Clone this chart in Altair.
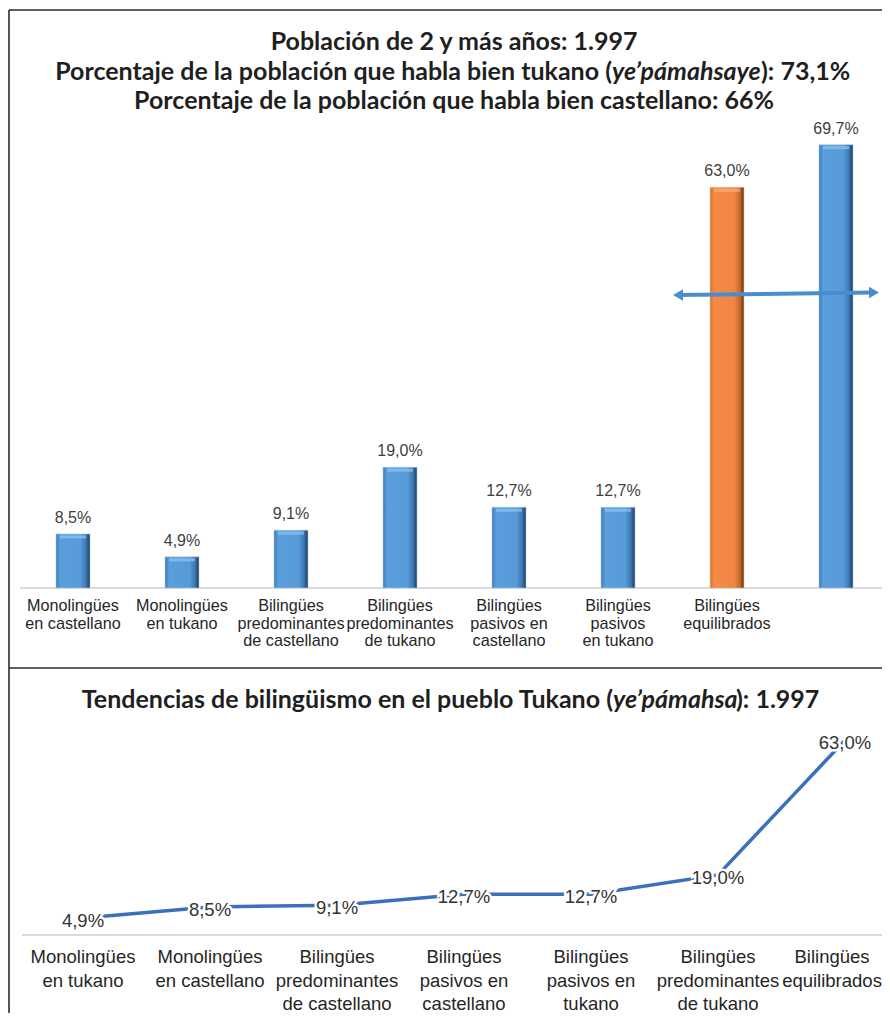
import altair as alt
import pandas as pd

# ---------------- data ----------------
bar_categories = [
    "Monolingües\nen castellano",
    "Monolingües\nen tukano",
    "Bilingües\npredominantes\nde castellano",
    "Bilingües\npredominantes\nde tukano",
    "Bilingües\npasivos en\ncastellano",
    "Bilingües\npasivos\nen tukano",
    "Bilingües\nequilibrados",
    "",
]
bar_values = [8.5, 4.9, 9.1, 19.0, 12.7, 12.7, 63.0, 69.7]
bar_labels = ["8,5%", "4,9%", "9,1%", "19,0%", "12,7%", "12,7%", "63,0%", "69,7%"]
bar_tones = ["blue", "blue", "blue", "blue", "blue", "blue", "orange", "blue"]

line_categories = [
    "Monolingües\nen tukano",
    "Monolingües\nen castellano",
    "Bilingües\npredominantes\nde castellano",
    "Bilingües\npasivos en\ncastellano",
    "Bilingües\npasivos en\ntukano",
    "Bilingües\npredominantes\nde tukano",
    "Bilingües\nequilibrados",
]
line_values = [4.9, 8.5, 9.1, 12.7, 12.7, 19.0, 63.0]
line_labels = ["4,9%", "8,5%", "9,1%", "12,7%", "12,7%", "19,0%", "63,0%"]

title_top_1 = "Población de 2 y más años: 1.997"
title_top_2 = ["Porcentaje de la población que habla bien tukano (", "ye’pámahsaye", "): 73,1%"]
title_top_3 = "Porcentaje de la población que habla bien castellano: 66%"
title_bottom = ["Tendencias de bilingüismo en el pueblo Tukano (", "ye’pámahsa", "): 1.997"]

bars_df = pd.DataFrame({"cat": bar_categories, "value": bar_values,
                        "label": bar_labels, "tone": bar_tones})
line_df = pd.DataFrame({"cat": line_categories, "value": line_values,
                        "label": line_labels, "idx": list(range(len(line_values)))})
one = pd.DataFrame({"d": [0]})

W, H = 874, 1005
TITLE_FONT = "Lato"
TITLE_SIZE = 25
LABEL_FONT = "Liberation Sans"

# ---------------- top panel ----------------
xb = alt.X("cat:N", scale=alt.Scale(domain=bar_categories, range=[10.5, 882.5],
                                    paddingInner=0, paddingOuter=0), axis=None)
yb = alt.Y("value:Q", scale=alt.Scale(domain=[0, 91.2], range=[580, 0]), axis=None)

blue_grad = alt.Gradient(
    gradient="linear", x1=0, y1=0, x2=1, y2=0,
    stops=[alt.GradientStop(offset=0, color="#3b79b8"),
           alt.GradientStop(offset=0.12, color="#5a9edc"),
           alt.GradientStop(offset=0.72, color="#569ad8"),
           alt.GradientStop(offset=0.88, color="#3e78b2"),
           alt.GradientStop(offset=1, color="#183a60")])
orange_grad = alt.Gradient(
    gradient="linear", x1=0, y1=0, x2=1, y2=0,
    stops=[alt.GradientStop(offset=0, color="#d9722e"),
           alt.GradientStop(offset=0.12, color="#f48a45"),
           alt.GradientStop(offset=0.72, color="#f08643"),
           alt.GradientStop(offset=0.88, color="#c4682c"),
           alt.GradientStop(offset=1, color="#6a3510")])

bars_blue = alt.Chart(bars_df).transform_filter("datum.tone == 'blue'").mark_bar(
    size=34, color=blue_grad, stroke="#b9c9d8", strokeWidth=0.6).encode(x=xb, y=yb)
bars_orange = alt.Chart(bars_df).transform_filter("datum.tone == 'orange'").mark_bar(
    size=34, color=orange_grad, stroke="#d8c2b0", strokeWidth=0.6).encode(x=xb, y=yb)
bevel_blue = alt.Chart(bars_df).transform_filter("datum.tone == 'blue'").mark_tick(
    size=26, thickness=3, color="#8fc6f2", yOffset=3).encode(x=xb, y=yb)
bevel_orange = alt.Chart(bars_df).transform_filter("datum.tone == 'orange'").mark_tick(
    size=26, thickness=3, color="#f8b07c", yOffset=3).encode(x=xb, y=yb)

bar_text = alt.Chart(bars_df).mark_text(
    font=LABEL_FONT, fontSize=16, color="#404040", baseline="alphabetic", dy=-11
).encode(x=xb, y=yb, text="label:N")

bar_cats = alt.Chart(bars_df).mark_text(
    font=LABEL_FONT, fontSize=16.2, color="#262626", baseline="top",
    lineBreak="\n", lineHeight=17.5
).encode(x=xb, y=alt.value(590), text="cat:N")

axis_top = alt.Chart(one).mark_rule(color="#cfcfcf", strokeWidth=1.5).encode(
    x=alt.value(12), x2=alt.value(W), y=alt.value(580))

ARROW = "#4a8dcf"
arrow_line = alt.Chart(one).mark_rule(color=ARROW, strokeWidth=4).encode(
    x=alt.value(670), x2=alt.value(866), y=alt.value(287), y2=alt.value(284.5))
arrow_l = alt.Chart(one).mark_point(shape="triangle-left", filled=True, size=130,
                                    color=ARROW, opacity=1).encode(
    x=alt.value(670), y=alt.value(287))
arrow_r = alt.Chart(one).mark_point(shape="triangle-right", filled=True, size=130,
                                    color=ARROW, opacity=1).encode(
    x=alt.value(866), y=alt.value(284.5))


def title_text(s, x, y, align, italic=False, size=TITLE_SIZE):
    return alt.Chart(one).mark_text(
        text=s, font=TITLE_FONT, fontSize=size, fontWeight="bold",
        fontStyle="italic" if italic else "normal", align=align,
        baseline="middle", color="#1f1f1f"
    ).encode(x=alt.value(x), y=alt.value(y))


titles = [
    title_text(title_top_1, 446, 34, "center"),
    title_text(title_top_2[0], 604, 64, "right"),
    title_text(title_top_2[1], 604, 64, "left", italic=True),
    title_text(title_top_2[2], 753, 64, "left"),
    title_text(title_top_3, 446, 93, "center"),
    title_text(title_bottom[0], 605, 692, "right"),
    title_text(title_bottom[1], 605, 692, "left", italic=True),
    title_text(title_bottom[2], 728, 692, "left"),
]

# ---------------- frame ----------------
frame_left = alt.Chart(one).mark_rule(color="#2b2b2b", strokeWidth=1.6).encode(
    x=alt.value(1), y=alt.value(2), y2=alt.value(H))
frame_top = alt.Chart(one).mark_rule(color="#2b2b2b", strokeWidth=1.6).encode(
    x=alt.value(1), x2=alt.value(W), y=alt.value(2))
frame_mid = alt.Chart(one).mark_rule(color="#2b2b2b", strokeWidth=1.6).encode(
    x=alt.value(1), x2=alt.value(W), y=alt.value(660))

# ---------------- bottom panel ----------------
xl = alt.X("cat:N", scale=alt.Scale(type="point", domain=line_categories,
                                    range=[75, 837], padding=0), axis=None)
yl = alt.Y("value:Q", scale=alt.Scale(domain=[0, 100], range=[925, 619]), axis=None)

axis_bottom = alt.Chart(one).mark_rule(color="#cfcfcf", strokeWidth=1.5).encode(
    x=alt.value(14), x2=alt.value(W), y=alt.value(927))

trend = alt.Chart(line_df).mark_line(color="#3a70bd", strokeWidth=3.5).encode(
    x=xl, y=yl, order="idx:Q")

line_halo = alt.Chart(line_df).mark_text(
    font=LABEL_FONT, fontSize=18.5, color="white", stroke="white", strokeWidth=5,
    baseline="middle", dy=3
).encode(x=xl, y=yl, text="label:N")
line_text = alt.Chart(line_df).mark_text(
    font=LABEL_FONT, fontSize=18.5, color="#333333", baseline="middle", dy=3
).encode(x=xl, y=yl, text="label:N")

line_cats = alt.Chart(line_df).transform_filter("datum.idx < 6").mark_text(
    font=LABEL_FONT, fontSize=18.5, color="#262626", baseline="top",
    lineBreak="\n", lineHeight=23.5
).encode(x=xl, y=alt.value(940), text="cat:N")
line_cat_last = alt.Chart(line_df).transform_filter("datum.idx == 6").mark_text(
    font=LABEL_FONT, fontSize=18.5, color="#262626", baseline="top",
    lineBreak="\n", lineHeight=23.5, dx=-13
).encode(x=xl, y=alt.value(940), text="cat:N")

chart = alt.layer(
    frame_left, frame_top, frame_mid,
    axis_top, bars_blue, bars_orange, bevel_blue, bevel_orange, bar_text, bar_cats,
    arrow_line, arrow_l, arrow_r,
    axis_bottom, trend, line_halo, line_text, line_cats, line_cat_last,
    *titles,
).resolve_scale(x="independent", y="independent").properties(
    width=W, height=H, padding=0, autosize="none"
).configure_view(stroke=None)

chart.save("out.html", embed_options={"renderer": "svg", "actions": False})
